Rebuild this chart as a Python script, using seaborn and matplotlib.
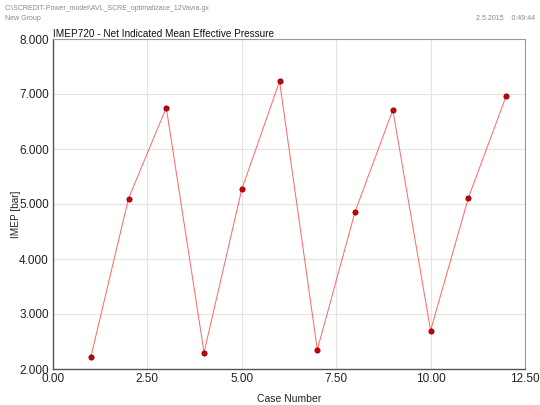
#!/usr/bin/env python3
"""Recreate IMEP720 vs case number chart."""
import matplotlib
matplotlib.use("Agg")
import matplotlib.pyplot as plt
from matplotlib.ticker import FormatStrFormatter, MultipleLocator
import pandas as pd
import seaborn as sns

# data
case_number = [1, 2, 3, 4, 5, 6, 7, 8, 9, 10, 11, 12]
imep_bar = [2.21, 5.10, 6.75, 2.30, 5.27, 7.23, 2.35, 4.86, 6.71, 2.70, 5.11, 6.96]

header_path = "C:\\SCREDIT-Power_model\\AVL_SCRE_optimalizace_12Vavra.gx"
header_group = "New Group"
header_date = "2.5.2015    0:49:44"
title = "IMEP720 - Net Indicated Mean Effective Pressure"


def main():
    sns.set_style("white")
    plt.rcParams["font.family"] = ["Liberation Sans", "DejaVu Sans"]

    df = pd.DataFrame({"case": case_number, "imep": imep_bar})

    fig = plt.figure(figsize=(5.4, 4.05), dpi=100)
    ax = fig.add_axes([53 / 540, 1 - 369 / 405, 472 / 540, 330 / 405])

    sns.lineplot(
        data=df, x="case", y="imep", ax=ax,
        color="#ff6464", linewidth=0.7,
        marker="o", markersize=3.8,
        markerfacecolor="#d00000", markeredgecolor="#700000", markeredgewidth=0.5,
    )

    ax.set_xlim(0, 12.5)
    ax.set_ylim(2, 8)
    ax.xaxis.set_major_locator(MultipleLocator(2.5))
    ax.yaxis.set_major_locator(MultipleLocator(1))
    ax.xaxis.set_major_formatter(FormatStrFormatter("%.2f"))
    ax.yaxis.set_major_formatter(FormatStrFormatter("%.3f"))
    ax.tick_params(length=0, labelsize=8.5, colors="#222222", pad=3)

    ax.grid(True, color="#e4e4e4", linewidth=0.8)
    ax.set_axisbelow(True)

    for side in ["left", "bottom"]:
        ax.spines[side].set_color("#555555")
        ax.spines[side].set_linewidth(1.0)
    for side in ["top", "right"]:
        ax.spines[side].set_color("#999999")
        ax.spines[side].set_linewidth(0.8)

    ax.set_xlabel("Case Number", fontsize=7.5, color="#222222", labelpad=6)
    ax.set_ylabel("IMEP [bar]", fontsize=7.2, color="#222222")
    ax.yaxis.set_label_coords(-0.068, 0.47)
    ax.set_title(title, loc="left", fontsize=7.2, pad=1.5, color="#111111")

    fig.text(5 / 540, 1 - 8 / 405, header_path, fontsize=5, color="#888888", va="center")
    fig.text(5 / 540, 1 - 19 / 405, header_group, fontsize=5, color="#888888", va="center")
    fig.text(535 / 540, 1 - 19 / 405, header_date, fontsize=5, color="#888888",
             va="center", ha="right")

    fig.savefig("out.png", dpi=100)
    plt.close(fig)


if __name__ == "__main__":
    main()
